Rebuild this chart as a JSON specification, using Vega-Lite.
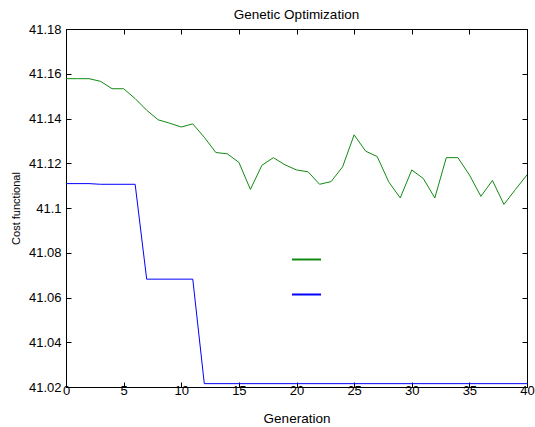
{
  "$schema": "https://vega.github.io/schema/vega-lite/v6.json",
  "width": 461,
  "height": 358,
  "autosize": {"type": "none"},
  "padding": {"left": 66, "top": 29, "right": 8, "bottom": 40},
  "background": "white",
  "title": {"text": "Genetic Optimization", "font": "Liberation Sans", "fontSize": 13.5, "fontWeight": "normal", "color": "black", "offset": 2},
  "config": {
    "view": {"stroke": "black", "strokeWidth": 1},
    "axis": {"labelFont": "Liberation Sans", "titleFont": "Liberation Sans", "labelFontSize": 13, "titleFontSize": 13.5, "titleFontWeight": "normal", "labelColor": "black", "titleColor": "black", "tickColor": "black", "domainColor": "black", "grid": false, "tickSize": -5, "labelFlush": false}
  },
  "data": {"values": [
    {"g":0,"v":41.1578,"s":"mean"},{"g":1,"v":41.1578,"s":"mean"},{"g":2,"v":41.1578,"s":"mean"},{"g":3,"v":41.1566,"s":"mean"},{"g":4,"v":41.1533,"s":"mean"},{"g":5,"v":41.1533,"s":"mean"},{"g":6,"v":41.1489,"s":"mean"},{"g":7,"v":41.1437,"s":"mean"},{"g":8,"v":41.1394,"s":"mean"},{"g":9,"v":41.1379,"s":"mean"},{"g":10,"v":41.1362,"s":"mean"},{"g":11,"v":41.1376,"s":"mean"},{"g":12,"v":41.1316,"s":"mean"},{"g":13,"v":41.1248,"s":"mean"},{"g":14,"v":41.1242,"s":"mean"},{"g":15,"v":41.1204,"s":"mean"},{"g":16,"v":41.1083,"s":"mean"},{"g":17,"v":41.1191,"s":"mean"},{"g":18,"v":41.1225,"s":"mean"},{"g":19,"v":41.1193,"s":"mean"},{"g":20,"v":41.117,"s":"mean"},{"g":21,"v":41.1162,"s":"mean"},{"g":22,"v":41.1106,"s":"mean"},{"g":23,"v":41.1118,"s":"mean"},{"g":24,"v":41.1184,"s":"mean"},{"g":25,"v":41.1327,"s":"mean"},{"g":26,"v":41.1254,"s":"mean"},{"g":27,"v":41.123,"s":"mean"},{"g":28,"v":41.1117,"s":"mean"},{"g":29,"v":41.1045,"s":"mean"},{"g":30,"v":41.117,"s":"mean"},{"g":31,"v":41.1132,"s":"mean"},{"g":32,"v":41.1045,"s":"mean"},{"g":33,"v":41.1225,"s":"mean"},{"g":34,"v":41.1225,"s":"mean"},{"g":35,"v":41.1148,"s":"mean"},{"g":36,"v":41.1052,"s":"mean"},{"g":37,"v":41.1123,"s":"mean"},{"g":38,"v":41.1016,"s":"mean"},{"g":39,"v":41.1083,"s":"mean"},{"g":40,"v":41.1148,"s":"mean"},
    {"g":0,"v":41.1109,"s":"best"},{"g":2,"v":41.1109,"s":"best"},{"g":3,"v":41.1106,"s":"best"},{"g":6,"v":41.1106,"s":"best"},{"g":7,"v":41.0682,"s":"best"},{"g":11,"v":41.0682,"s":"best"},{"g":12,"v":41.0215,"s":"best"},{"g":40,"v":41.0215,"s":"best"}
  ]},
  "layer": [
    {
      "mark": {"type": "line", "strokeWidth": 1, "clip": true},
      "encoding": {
        "x": {"field": "g", "type": "quantitative", "scale": {"domain": [0, 40], "nice": false}, "axis": {"values": [0,5,10,15,20,25,30,35,40], "title": "Generation", "titlePadding": 14, "labelPadding": 2}},
        "y": {"field": "v", "type": "quantitative", "scale": {"domain": [41.02, 41.18], "nice": false, "zero": false}, "axis": {"values": [41.02,41.04,41.06,41.08,41.1,41.12,41.14,41.16,41.18], "format": ".2~f", "title": "Cost functional", "titleFontSize": 11, "titlePadding": 7, "labelPadding": 10}},
        "color": {"field": "s", "type": "nominal", "scale": {"domain": ["mean", "best"], "range": ["#138a13", "#0000ff"]},
          "legend": {"orient": "none", "legendX": 225, "legendY": 215, "title": null, "labelExpr": "''", "symbolType": "stroke", "symbolSize": 841, "symbolStrokeWidth": 2, "rowPadding": 14, "padding": 0, "labelOffset": 0}},
        "order": {"field": "g", "type": "quantitative"}
      }
    },
    {
      "mark": {"type": "line", "opacity": 0},
      "encoding": {
        "x": {"field": "g", "type": "quantitative", "scale": {"domain": [0, 40], "nice": false}, "axis": {"orient": "top", "values": [0,5,10,15,20,25,30,35,40], "labels": false, "title": null}},
        "y": {"field": "v", "type": "quantitative", "scale": {"domain": [41.02, 41.18], "nice": false, "zero": false}, "axis": {"orient": "right", "values": [41.02,41.04,41.06,41.08,41.1,41.12,41.14,41.16,41.18], "labels": false, "title": null}},
        "detail": {"field": "s"}
      }
    }
  ],
  "resolve": {"scale": {"x": "independent", "y": "independent"}, "axis": {"x": "independent", "y": "independent"}}
}
